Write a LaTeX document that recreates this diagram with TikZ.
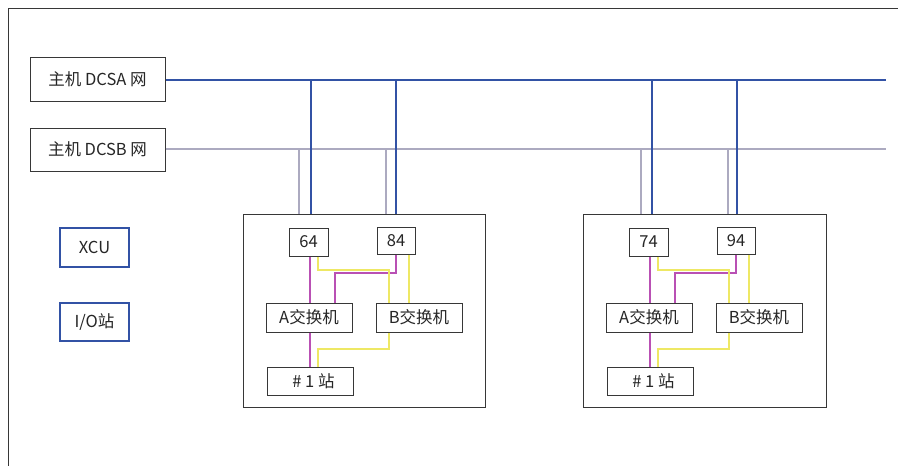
\documentclass[tikz,border=0pt]{standalone}
\usepackage{fontspec}
\setmainfont{Noto Sans CJK SC}
\definecolor{busA}{RGB}{50,82,165}
\definecolor{busB}{RGB}{172,170,192}
\definecolor{pur}{RGB}{185,80,180}
\definecolor{yel}{RGB}{238,232,100}
\definecolor{frm}{RGB}{55,55,55}
\tikzset{
  box/.style={draw=frm, line width=1pt, fill=white, inner sep=0pt, font=\fontsize{16.5}{18}\selectfont, text=black!85},
  bbox/.style={draw=busA, line width=1.4pt, fill=white, inner sep=0pt, font=\fontsize{16.5}{18}\selectfont, text=black!85},
  grp/.style={draw=frm, line width=1pt, inner sep=0pt},
  alink/.style={draw=busA, line width=2.6pt},
  blink/.style={draw=busB, line width=2.6pt},
  plink/.style={draw=pur, line width=1.3pt},
  ylink/.style={draw=yel, line width=1.3pt}
}
\begin{document}
\begin{tikzpicture}[x=1pt,y=-1pt]
\useasboundingbox (0,0) rectangle (898,466);
% outer frame
\draw[frm, line width=1pt] (8,466) -- (8,8) -- (898,8);
% bus sources
\node[box, minimum width=135, minimum height=44] (dcsa) at (97.5,79) {主机 DCSA 网};
\node[box, minimum width=135, minimum height=43] (dcsb) at (97.5,149.5) {主机 DCSB 网};
\node[bbox, minimum width=69, minimum height=39] (xcu) at (94.5,247.5) {XCU};
\node[bbox, minimum width=69, minimum height=38] (io) at (94.5,322) {I/O站};
\coordinate (aend) at (886,80);
\coordinate (bend) at (886,149);
% group boxes
\node[grp, minimum width=242, minimum height=193] (g1) at (364,310.5) {};
\node[grp, minimum width=243, minimum height=193] (g2) at (704.5,310.5) {};
% buses
\draw[blink] (dcsb.east |- bend) -- (bend);
\foreach \x in {299,386,641,728} {
  \draw[blink] (\x,149) -- (\x,0 |- g1.north);
}
\draw[alink] (dcsa.east |- aend) -- (aend);
\foreach \x in {311,396,652,737} {
  \draw[alink] (\x,80) -- (\x,0 |- g1.north);
}
% group contents
\foreach \g/\dx/\la/\lb in {1/0/64/84, 2/340/74/94} {
  \begin{scope}[shift={(\dx,0)}]
  \node[box, minimum width=39, minimum height=28] (a\g) at (308.5,242) {\la};
  \node[box, minimum width=38, minimum height=27] (b\g) at (396,240.5) {\lb};
  \node[box, minimum width=86, minimum height=29] (swa\g) at (309,317.5) {A交换机};
  \node[box, minimum width=86, minimum height=29] (swb\g) at (419,317.5) {B交换机};
  \node[box, minimum width=86, minimum height=28] (st\g) at (310,381) {\hspace{7pt}\# 1 站};
  % purple links
  \draw[plink] (310,0 |- a\g.south) -- (310,0 |- swa\g.north);
  \draw[plink] (310,0 |- swa\g.south) -- (310,0 |- st\g.north);
  \draw[plink] (396,0 |- b\g.south) -- (396,273) -- (335,273) -- (335,0 |- swa\g.north);
  % yellow links
  \draw[ylink] (318,0 |- a\g.south) -- (318,270) -- (389,270) -- (389,0 |- swb\g.north);
  \draw[ylink] (409,0 |- b\g.south) -- (409,0 |- swb\g.north);
  \draw[ylink] (389,0 |- swb\g.south) -- (389,349) -- (318,349) -- (318,0 |- st\g.north);
  \end{scope}
}
\end{tikzpicture}
\end{document}
